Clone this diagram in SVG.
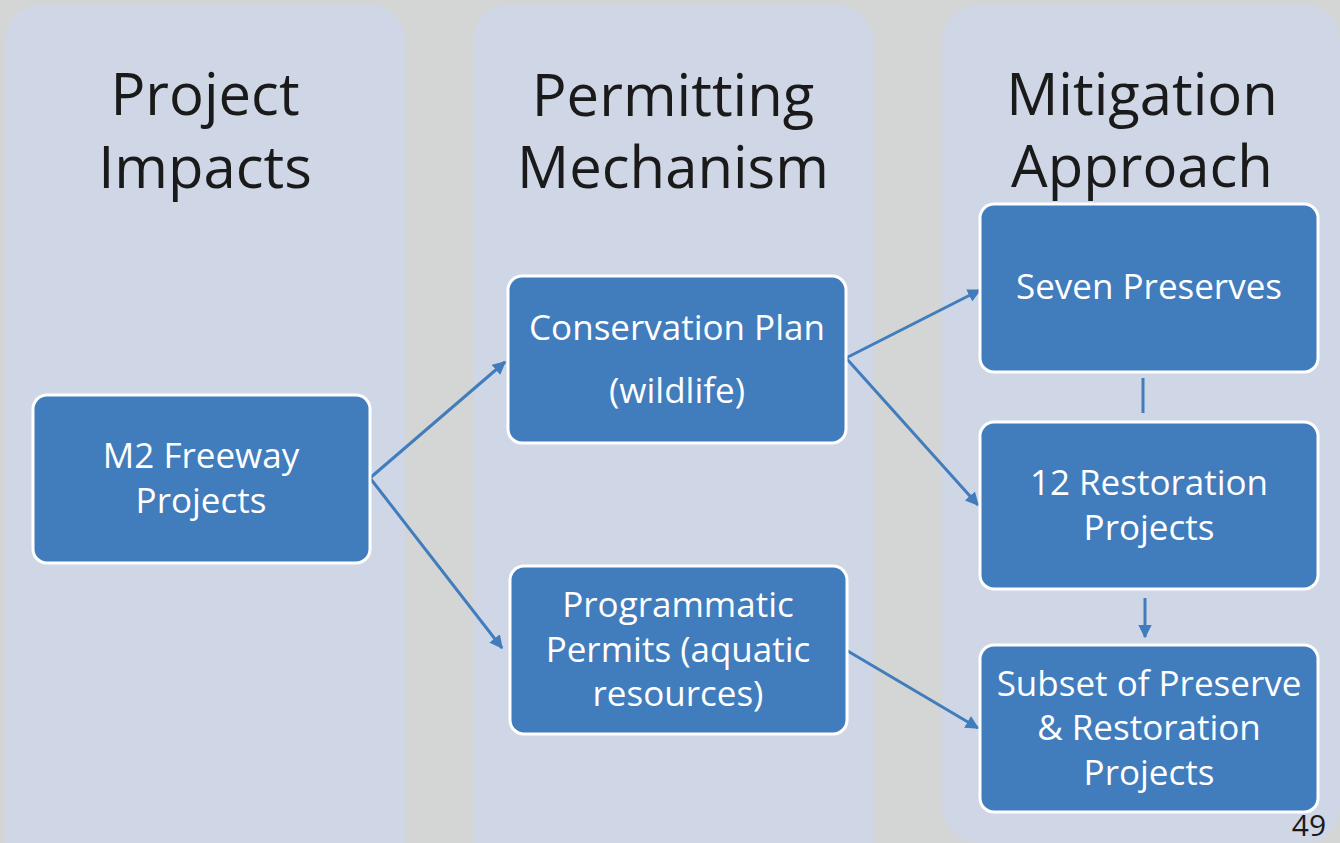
<svg xmlns="http://www.w3.org/2000/svg" width="1340" height="843" viewBox="0 0 1340 843">
<style>
.col{fill:#CFD7E6}
.box{fill:#417CBD;stroke:#FFFFFF;stroke-width:3}
.title{font-family:"Open Sans","Liberation Sans",sans-serif;font-size:58px;fill:#1A1A1A;text-anchor:middle}
.lbl{font-family:"Open Sans","Liberation Sans",sans-serif;font-size:35px;fill:#FFFFFF;text-anchor:middle}
.con{stroke:#417CBD;stroke-width:3;fill:none}
</style>
<defs>
<marker id="ah" viewBox="0 0 10 10" refX="9" refY="5" markerWidth="4.5" markerHeight="4.5" orient="auto" markerUnits="strokeWidth">
<path d="M0,0 L10,5 L0,10 z" fill="#417CBD"/>
</marker>
</defs>
<rect width="1340" height="843" fill="#D4D6D5"/>
<g id="col-impacts"><rect class="col" x="5" y="5" width="400" height="880" rx="36"/>
<text class="title" x="205" y="115">Project</text><text class="title" x="205" y="188">Impacts</text></g>
<g id="col-permitting"><rect class="col" x="473" y="5" width="400" height="880" rx="36"/>
<text class="title" x="673" y="116">Permitting</text><text class="title" x="673" y="188">Mechanism</text></g>
<g id="col-mitigation"><rect class="col" x="942" y="5" width="398" height="838" rx="36"/>
<text class="title" x="1142" y="115">Mitigation</text><text class="title" x="1142" y="187">Approach</text></g>
<g id="connectors">
<line class="con" x1="370" y1="478" x2="505" y2="362" marker-end="url(#ah)"/>
<line class="con" x1="370" y1="478" x2="502" y2="648" marker-end="url(#ah)"/>
<line class="con" x1="846" y1="358" x2="980" y2="290" marker-end="url(#ah)"/>
<line class="con" x1="846" y1="358" x2="978" y2="505" marker-end="url(#ah)"/>
<line class="con" x1="846" y1="650" x2="978" y2="728" marker-end="url(#ah)"/>
<line class="con" x1="1143" y1="378" x2="1143" y2="413"/>
<line class="con" x1="1145" y1="598" x2="1145" y2="637" marker-end="url(#ah)"/>
</g>
<g id="m2"><rect class="box" x="33" y="395" width="337" height="168" rx="14"/>
<text class="lbl" x="201" y="468">M2 Freeway</text><text class="lbl" x="201" y="513">Projects</text></g>
<g id="conservation"><rect class="box" x="508" y="276" width="338" height="167" rx="14"/>
<text class="lbl" x="677" y="340">Conservation Plan</text><text class="lbl" x="677" y="403">(wildlife)</text></g>
<g id="programmatic"><rect class="box" x="510" y="566" width="337" height="168" rx="14"/>
<text class="lbl" x="678" y="617">Programmatic</text><text class="lbl" x="678" y="662">Permits (aquatic</text><text class="lbl" x="678" y="706">resources)</text></g>
<g id="seven"><rect class="box" x="980" y="204" width="338" height="168" rx="14"/>
<text class="lbl" x="1149" y="299">Seven Preserves</text></g>
<g id="restoration"><rect class="box" x="980" y="422" width="338" height="167" rx="14"/>
<text class="lbl" x="1149" y="495">12 Restoration</text><text class="lbl" x="1149" y="540">Projects</text></g>
<g id="subset"><rect class="box" x="980" y="645" width="338" height="167" rx="14"/>
<text class="lbl" x="1149" y="696">Subset of Preserve</text><text class="lbl" x="1149" y="740">&amp; Restoration</text><text class="lbl" x="1149" y="785">Projects</text></g>
<text x="1309" y="836" font-family="Open Sans, Liberation Sans, sans-serif" font-size="30" fill="#1A1A1A" text-anchor="middle">49</text>
</svg>
